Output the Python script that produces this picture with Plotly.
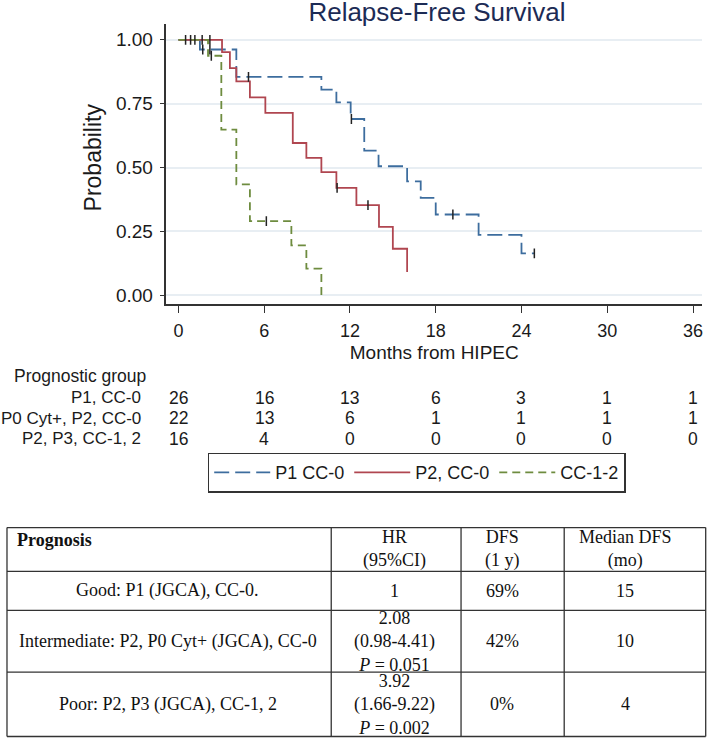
import plotly.graph_objects as go

# Kaplan-Meier curves (months, survival probability)
p1_t = [0, 1.5, 4.05, 10.0, 11.05, 12.05, 13.0, 14.0, 16.0, 16.95, 18.0, 21.0, 24.0, 24.9]
p1_s = [1.0, 0.962, 0.855, 0.805, 0.755, 0.69, 0.566, 0.505, 0.446, 0.381, 0.316, 0.236, 0.164, 0.164]
p1_cens_t = [1.7, 2.2, 4.9, 12.1, 19.2, 24.9]
p1_cens_s = [0.962, 0.962, 0.855, 0.69, 0.316, 0.164]

p2_t = [0, 3.05, 3.6, 4.05, 5.0, 6.08, 8.0, 8.95, 10.0, 11.05, 12.45, 14.03, 15.0, 16.0]
p2_s = [1.0, 0.952, 0.889, 0.837, 0.775, 0.714, 0.596, 0.538, 0.482, 0.42, 0.353, 0.268, 0.182, 0.091]
p2_cens_t = [0.5, 0.85, 1.15, 1.66, 2.2, 11.1, 13.26]
p2_cens_s = [1.0, 1.0, 1.0, 1.0, 1.0, 0.42, 0.353]

cc_t = [0, 2.07, 3.0, 4.05, 5.0, 7.9, 8.95, 10.0]
cc_s = [1.0, 0.9375, 0.648, 0.434, 0.29, 0.195, 0.104, 0.0]
cc_cens_t = [2.3, 6.15]
cc_cens_s = [0.9375, 0.29]

# numbers at risk
risk_times = [0, 6, 12, 18, 24, 30, 36]
risk_labels = ["P1, CC-0", "P0 Cyt+, P2, CC-0", "P2, P3, CC-1, 2"]
risk_p1 = [26, 16, 13, 6, 3, 1, 1]
risk_p2 = [22, 13, 6, 1, 1, 1, 1]
risk_cc = [16, 4, 0, 0, 0, 0, 0]

# summary table
tbl_header = ["<b>Prognosis</b>", "HR<br>(95%CI)", "DFS<br>(1 y)", "Median DFS<br>(mo)"]
tbl_prognosis = ["Good: P1 (JGCA), CC-0.", "Intermediate: P2, P0 Cyt+ (JGCA), CC-0", "Poor: P2, P3 (JGCA), CC-1, 2"]
tbl_hr = ["1", "2.08<br>(0.98-4.41)<br><i>P</i> = 0.051", "3.92<br>(1.66-9.22)<br><i>P</i> = 0.002"]
tbl_dfs = ["69%", "42%", "0%"]
tbl_median = ["15", "10", "4"]

BLUE = "#3d6d9e"
RED = "#b04650"
GREEN = "#6e8c3f"
SANS = "Liberation Sans, Arial"
SERIF = "Liberation Serif, Times New Roman"
W, H = 709, 740


def px(x):
    return x / W


def py(y):
    return 1 - y / H


fig = go.Figure()
curves = [
    ("P1 CC-0", p1_t, p1_s, p1_cens_t, p1_cens_s, BLUE, "15px,6px"),
    ("P2, CC-0", p2_t, p2_s, p2_cens_t, p2_cens_s, RED, "solid"),
    ("CC-1-2", cc_t, cc_s, cc_cens_t, cc_cens_s, GREEN, "8px,5px"),
]
for name, t, s, ct, cs, col, dash in curves:
    fig.add_trace(go.Scatter(x=t, y=s, mode="lines", name=name, line_shape="hv",
                             line=dict(color=col, width=1.8, dash=dash)))
for name, t, s, ct, cs, col, dash in curves:
    fig.add_trace(go.Scatter(x=ct, y=cs, mode="markers", showlegend=False,
                             marker=dict(symbol="line-ns", size=7,
                                         line=dict(color="#222222", width=1.5))))

ann = []
# y-axis title
ann.append(dict(x=px(93), y=py(158), xref="paper", yref="paper", text="Probability",
                textangle=-90, showarrow=False, xanchor="center", yanchor="middle",
                font=dict(size=23)))

# risk table
RFONT = dict(size=17.5)
ann.append(dict(x=px(12), y=py(377), xref="paper", yref="paper", text="Prognostic group",
                showarrow=False, xanchor="left", yanchor="middle", font=RFONT))
for lab, vals, yy in zip(risk_labels, [risk_p1, risk_p2, risk_cc], [399, 419.5, 440]):
    ann.append(dict(x=px(143), y=py(yy), xref="paper", yref="paper", text=lab,
                    showarrow=False, xanchor="right", yanchor="middle", font=dict(size=17)))
    for tt, v in zip(risk_times, vals):
        ann.append(dict(x=tt, y=py(yy), xref="x", yref="paper", text=str(v),
                        showarrow=False, xanchor="center", yanchor="middle", font=RFONT))

# summary table: grid lines + cell texts
col_edges = [7, 331.7, 461.7, 565, 706.7]
row_edges = [529, 573, 612, 674, 738.5]
col_text_x = [168, 395, 503, 626]
shapes = []
for xe in col_edges:
    shapes.append(dict(type="line", xref="paper", yref="paper", x0=px(xe), x1=px(xe),
                       y0=py(row_edges[0]), y1=py(row_edges[-1]),
                       line=dict(color="#333333", width=1.3)))
for ye in row_edges:
    shapes.append(dict(type="line", xref="paper", yref="paper", x0=px(col_edges[0]), x1=px(col_edges[-1]),
                       y0=py(ye), y1=py(ye), line=dict(color="#333333", width=1.3)))

TFONT = dict(family=SERIF, size=18, color="#111111")
ann.append(dict(x=px(15), y=py(541.5), xref="paper", yref="paper", text=tbl_header[0],
                showarrow=False, xanchor="left", yanchor="middle", font=TFONT))
for txt, cx in zip(tbl_header[1:], col_text_x[1:]):
    ann.append(dict(x=px(cx), y=py(550), xref="paper", yref="paper", text=txt,
                    showarrow=False, xanchor="center", yanchor="middle", font=TFONT))
columns = [tbl_prognosis, tbl_hr, tbl_dfs, tbl_median]
for ci, col in enumerate(columns):
    for ri, txt in enumerate(col):
        cy = (row_edges[ri + 1] + row_edges[ri + 2]) / 2
        ann.append(dict(x=px(col_text_x[ci]), y=py(cy), xref="paper", yref="paper", text=txt,
                        showarrow=False, xanchor="center", yanchor="middle", font=TFONT))

fig.update_layout(
    width=W, height=H, margin=dict(l=0, r=0, t=0, b=0),
    paper_bgcolor="white", plot_bgcolor="white",
    font=dict(family=SANS, size=17, color="#1a1a1a"),
    title=dict(text="Relapse-Free Survival", x=px(437), xanchor="center",
               y=py(11.5), yanchor="middle", yref="container",
               font=dict(size=26, color="#1c2b55")),
    xaxis=dict(domain=[px(166.7), px(703)], range=[-0.838, 36.63],
               tickvals=risk_times, ticks="outside", ticklen=7, tickwidth=1.2, tickcolor="#333",
               showline=True, linecolor="#333", linewidth=1.5, showgrid=False, zeroline=False,
               title=dict(text="Months from HIPEC", font=dict(size=19), standoff=6),
               tickfont=dict(size=18), ticklabelstandoff=2),
    yaxis=dict(domain=[py(305), py(24.3)], range=[-0.035, 1.061],
               tickvals=[0, 0.25, 0.5, 0.75, 1.0], tickformat=".2f",
               ticks="outside", ticklen=5, tickwidth=1.2, tickcolor="#333",
               showline=True, linecolor="#333", linewidth=1.5,
               showgrid=True, gridcolor="#e8eef3", gridwidth=1.5, zeroline=False,
               tickfont=dict(size=19), ticklabelstandoff=3),
    legend=dict(orientation="h", x=px(208), xanchor="left", y=py(474), yanchor="middle",
                bordercolor="#333", borderwidth=1.5, bgcolor="white",
                font=dict(size=18), itemwidth=56),
    annotations=ann,
    shapes=shapes,
)

# the page body has a default 8px margin; remove it so the figure fills the window
fig.write_html("out.html", config={"displayModeBar": False},
               post_script="document.body.style.margin = '0';")
